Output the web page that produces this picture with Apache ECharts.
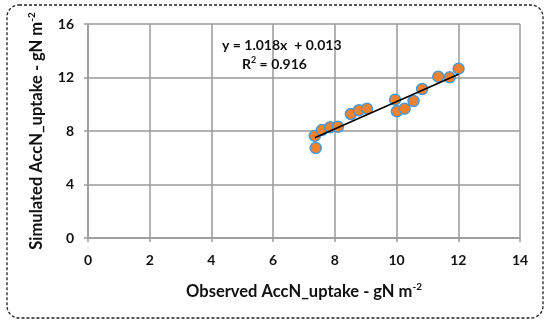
<!DOCTYPE html>
<html>
<head>
<meta charset="utf-8">
<script src="https://cdn.jsdelivr.net/npm/echarts@6/dist/echarts.min.js"></script>
<style>html,body{margin:0;padding:0;background:#fff}#c{width:550px;height:324px}</style>
</head>
<body>
<div id="c"></div>
<script>
const observed = [7.35, 7.38, 7.58, 7.85, 8.10, 8.52, 8.78, 9.04, 9.95, 10.01, 10.26, 10.55, 10.83, 11.35, 11.72, 12.01];
const simulated = [7.63, 6.73, 8.07, 8.28, 8.32, 9.27, 9.55, 9.67, 10.34, 9.47, 9.67, 10.24, 11.14, 12.06, 12.01, 12.66];
const slope = 1.018, intercept = 0.013, r2 = 0.916;
const xTicks = [0, 2, 4, 6, 8, 10, 12, 14];
const yTicks = [0, 4, 8, 12, 16];

const pts = observed.map((x, i) => [x, simulated[i]]);
const xmin = Math.min(...observed), xmax = Math.max(...observed);
const trend = [[xmin, slope * xmin + intercept], [xmax, slope * xmax + intercept]];
const FONT = 'Lato';
const TXT = '#111';
const chart = echarts.init(document.getElementById('c'), null, {renderer: 'canvas'});
chart.setOption({
  animation: false,
  backgroundColor: '#fff',
  grid: {left: 88, right: 30, top: 24, bottom: 86, show: false},
  xAxis: {
    type: 'value', min: xTicks[0], max: xTicks[xTicks.length - 1], interval: 2,
    axisLine: {show: true, onZero: false, lineStyle: {color: '#9a9a9a', width: 1.5}},
    axisTick: {show: true, length: 4, lineStyle: {color: '#9a9a9a', width: 1.5}},
    axisLabel: {color: TXT, fontFamily: FONT, fontWeight: 'bold', fontSize: 14, margin: 15},
    splitLine: {show: true, lineStyle: {color: '#9a9a9a', width: 1.5}},
    name: 'Observed AccN_uptake - gN m{s|-2}', nameLocation: 'middle', nameGap: 44,
    nameTextStyle: {color: TXT, fontFamily: FONT, fontWeight: 'bold', fontSize: 16.5,
      rich: {s: {fontSize: 10, fontWeight: 'bold', fontFamily: FONT, color: TXT, padding: [0,0,9,0]}}}
  },
  yAxis: {
    type: 'value', min: yTicks[0], max: yTicks[yTicks.length - 1], interval: 4,
    axisLine: {show: true, onZero: false, lineStyle: {color: '#9a9a9a', width: 1.5}},
    axisTick: {show: true, length: 4, lineStyle: {color: '#9a9a9a', width: 1.5}},
    axisLabel: {color: TXT, fontFamily: FONT, fontWeight: 'bold', fontSize: 14, margin: 14},
    splitLine: {show: true, lineStyle: {color: '#9a9a9a', width: 1.5}},
    name: 'Simulated AccN_uptake - gN m{s|-2}', nameLocation: 'middle', nameGap: 42,
    nameTextStyle: {color: TXT, fontFamily: FONT, fontWeight: 'bold', fontSize: 16.5,
      rich: {s: {fontSize: 10, fontWeight: 'bold', fontFamily: FONT, color: TXT, padding: [0,0,9,0]}}}
  },
  series: [
    {
      type: 'scatter', data: pts, symbolSize: 11, z: 3,
      itemStyle: {color: '#F4812B', borderColor: '#4A9AD8', borderWidth: 1.5, opacity: 1}
    },
    {
      type: 'line', data: trend, symbol: 'none', z: 4,
      lineStyle: {color: '#000', width: 1.5}
    }
  ],
  graphic: [
    {type: 'rect', shape: {x: 7, y: 5, width: 536, height: 313, r: 12},
     style: {fill: null, stroke: '#222', lineWidth: 1.3, lineDash: [3, 2]}, z: 10},
    {type: 'text', left: 222, top: 38,
     style: {text: 'y = ' + slope.toFixed(3) + 'x  + ' + intercept.toFixed(3), fill: TXT, font: 'bold 14px Lato'}, z: 10},
    {type: 'text', left: 242, top: 56,
     style: {text: 'R{s|2} = ' + r2.toFixed(3), fill: TXT, font: 'bold 14px Lato',
       rich: {s: {fontSize: 9, fontWeight: 'bold', fontFamily: 'Lato', fill: TXT, padding: [0,0,7,0]}}}, z: 10}
  ]
});
</script>
</body>
</html>
